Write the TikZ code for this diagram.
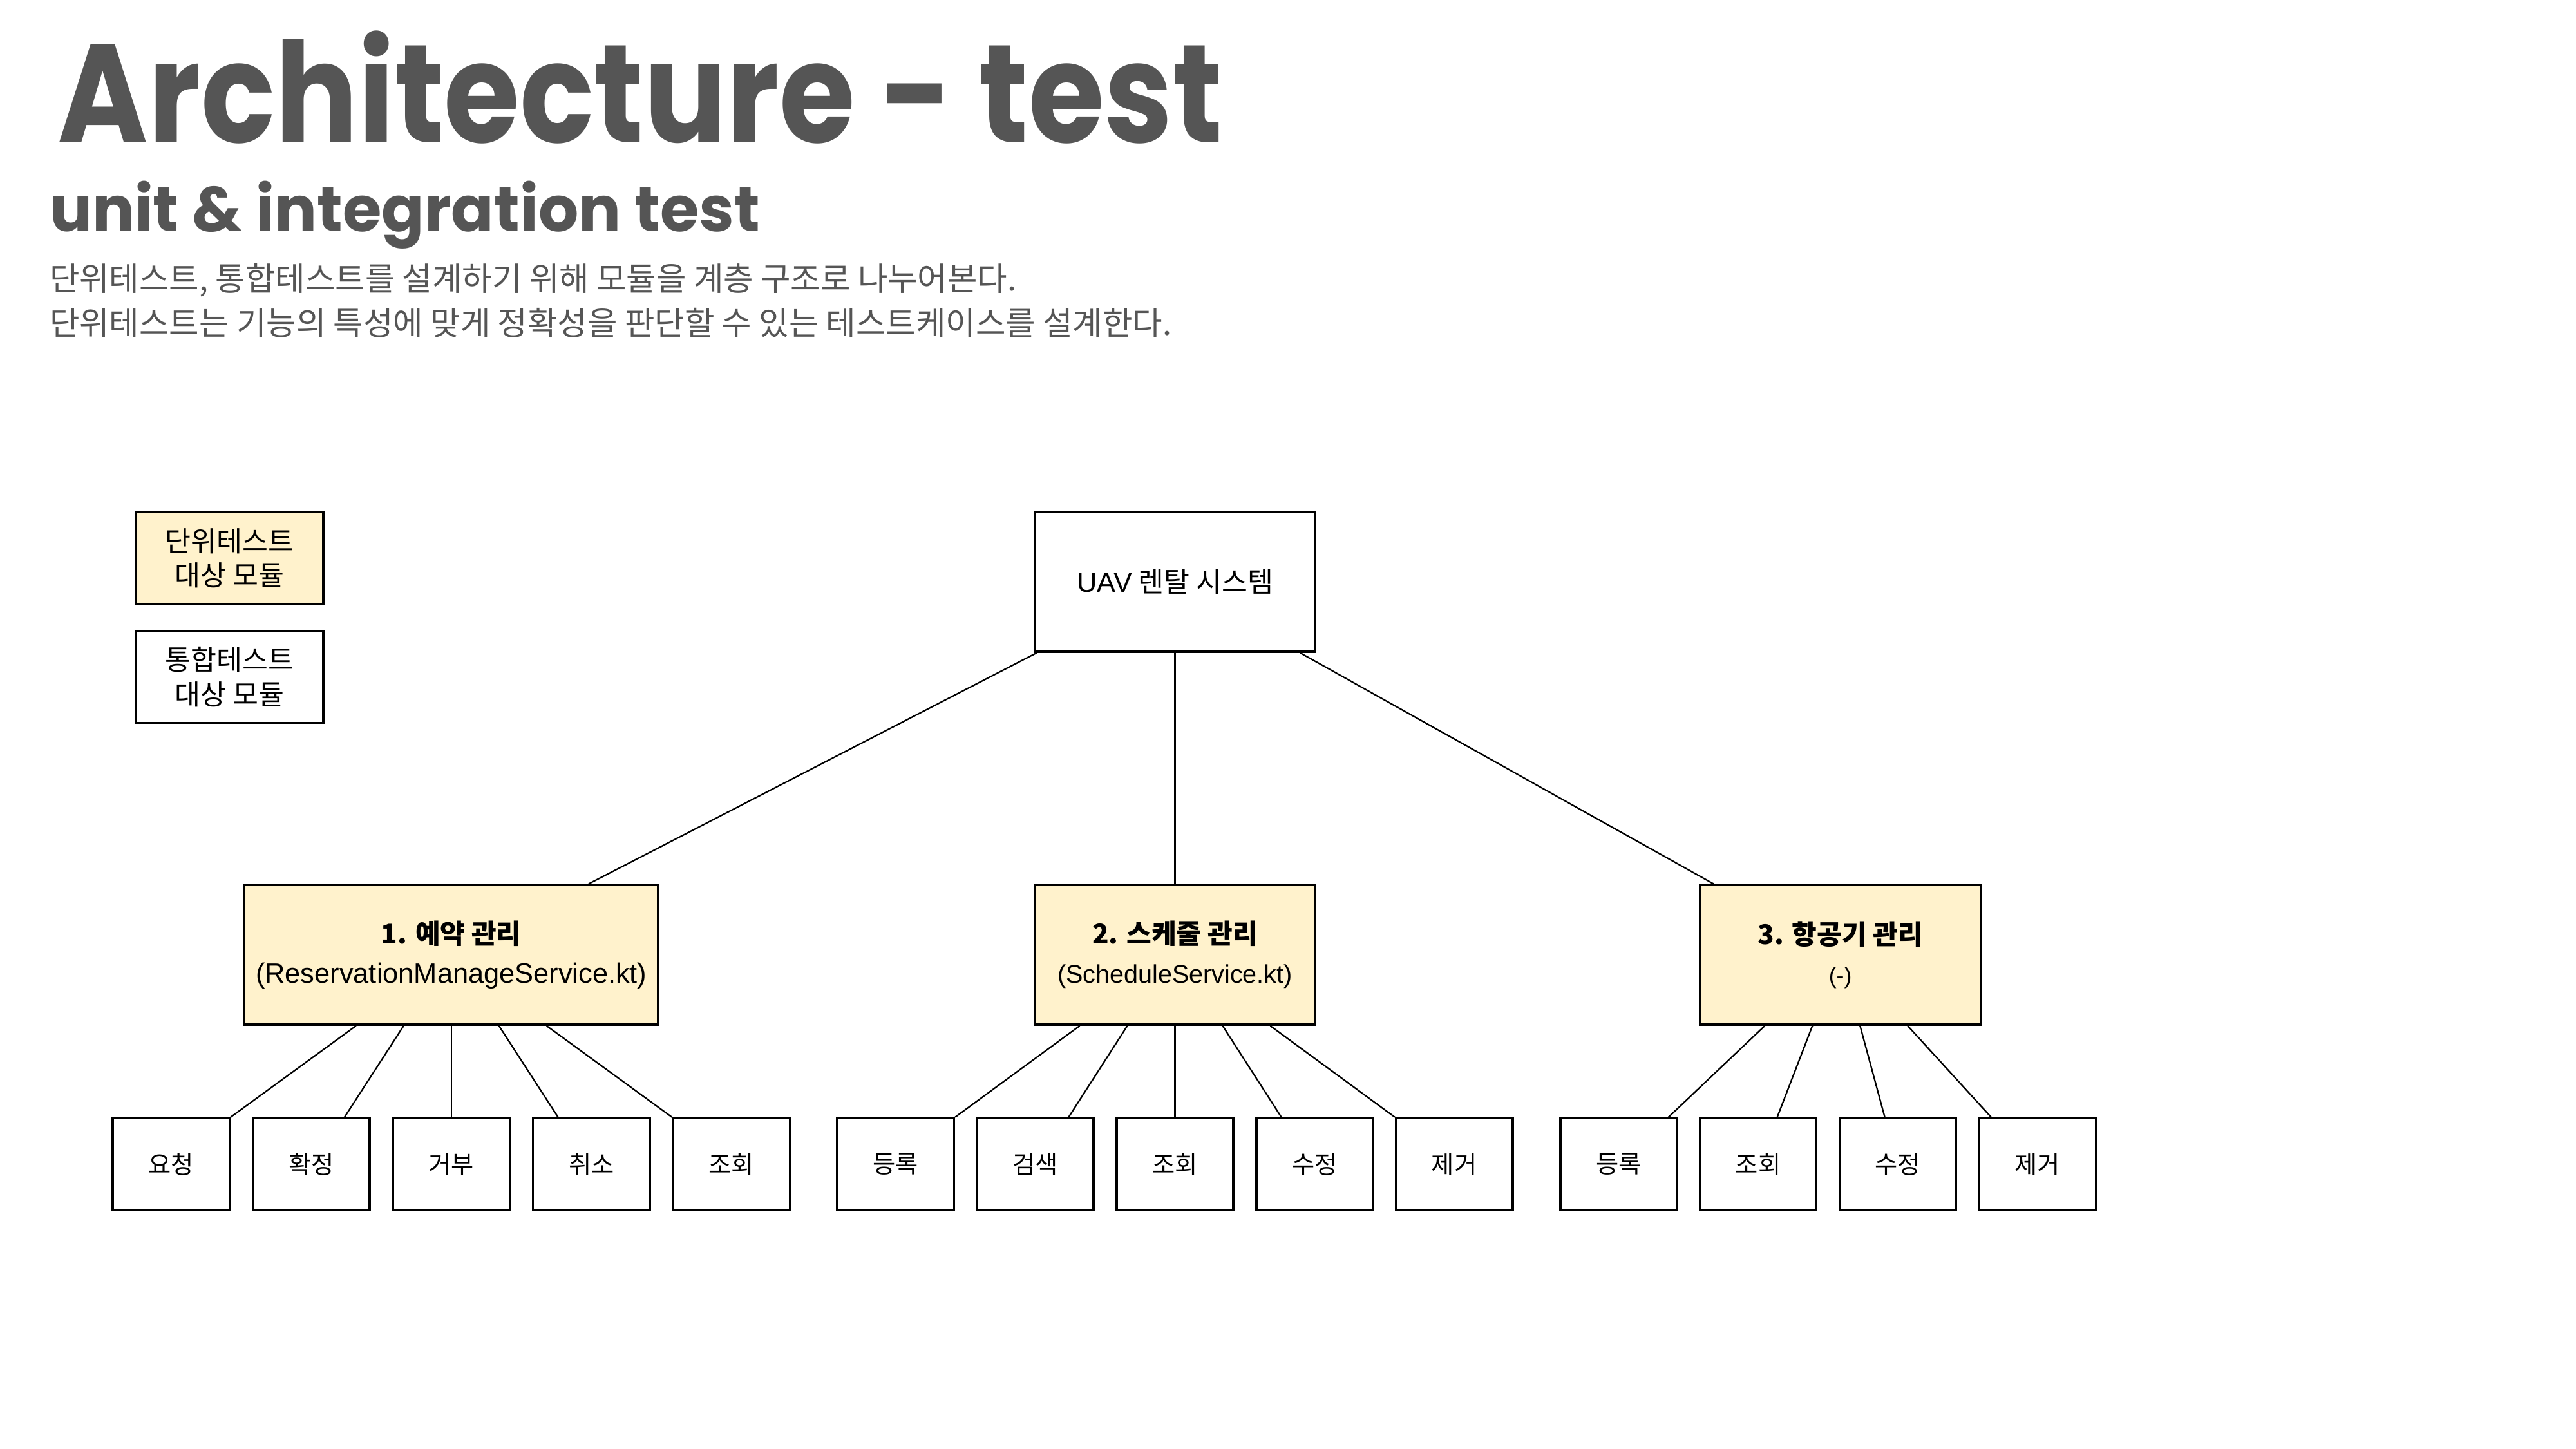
\documentclass[tikz,border=0pt]{standalone}
\usepackage{fontspec}
\setmainfont{Noto Sans CJK KR}
\newfontfamily\titlefont{Poppins}
\newfontfamily\latfont{Liberation Sans}
\usepackage{tikz}
\usetikzlibrary{positioning}
\usetikzlibrary{calc}

\definecolor{headgray}{HTML}{555555}
\definecolor{unitfill}{HTML}{FFF2CC}

\begin{document}
\begin{tikzpicture}[x=1pt, y=1pt,
		box/.style={draw, line width=1.4pt, inner sep=0pt, align=center, font=\fontsize{15}{21}\selectfont},
		unit/.style={box, fill=unitfill},
		leaf/.style={box, minimum width=71pt, minimum height=56pt, anchor=north west},
		link/.style={line width=0.9pt}]
			\fill[white] (0,0) rectangle (1568,-882);
			% heading
			\node (title) at (35,-87) [anchor=base west, inner sep=0pt, text=headgray] {\scalebox{0.88}[1]{\titlefont\bfseries\fontsize{85}{85}\selectfont Architecture - test}};
			\node (subtitle) at (30,-141) [anchor=base west, inner sep=0pt, text=headgray] {\titlefont\bfseries\fontsize{38.4}{38.4}\selectfont unit \& integration test};
			\node (lineone) at (30,-177) [anchor=base west, inner sep=0pt, text=headgray, font=\fontsize{19.8}{19.8}\selectfont] {단위테스트, 통합테스트를 설계하기 위해 모듈을 계층 구조로 나누어본다.};
			\node (linetwo) at (30,-204) [anchor=base west, inner sep=0pt, text=headgray, font=\fontsize{19.8}{19.8}\selectfont] {단위테스트는 기능의 특성에 맞게 정확성을 판단할 수 있는 테스트케이스를 설계한다.};
			% legend
			\node (legunit) at (82,-311) [unit, minimum width=114pt, minimum height=56pt, anchor=north west, font=\fontsize{17}{21}\selectfont] {단위테스트\\대상 모듈};
			\node (legint) [box, minimum width=114pt, minimum height=56pt, below=15pt of legunit, font=\fontsize{17}{21}\selectfont] {통합테스트\\대상 모듈};
			% tree
			\node (root) at (629,-311) [box, minimum width=171pt, minimum height=85pt, anchor=north west, font=\fontsize{17}{21}\selectfont] {{\latfont UAV} 렌탈 시스템};
			\node (res) at (148,-538) [unit, minimum width=252pt, minimum height=85pt, anchor=north west, font=\fontsize{16.5}{24}\selectfont] {\textbf{1. 예약 관리}\\{\latfont\fontsize{17}{17}\selectfont (ReservationManageService.kt)}};
			\node (sched) at (629,-538) [unit, minimum width=171pt, minimum height=85pt, anchor=north west, font=\fontsize{16.5}{24}\selectfont] {\textbf{2. 스케줄 관리}\\{\latfont\fontsize{15.5}{15.5}\selectfont (ScheduleService.kt)}};
			\node (air) at (1034,-538) [unit, minimum width=171pt, minimum height=85pt, anchor=north west, font=\fontsize{16.5}{24}\selectfont] {\textbf{3. 항공기 관리}\\{\latfont\fontsize{14}{14}\selectfont (-)}};
			\draw[link] ($(root.south west)+(2,0)$) -- ($(res.north west)!0.83!(res.north east)$);
			\draw[link] (root.south) -- (sched.north);
			\draw[link] ($(root.south east)+(-10,0)$) -- ($(air.north west)+(9,0)$);
			% leaves
			\foreach \lbl [count=\i] in {요청,확정,거부,취소,조회}
				\node (r\i) at ({68+85.25*(\i-1)},-680) [leaf] {\lbl};
			\foreach \lbl [count=\i] in {등록,검색,조회,수정,제거}
				\node (s\i) at ({509+85*(\i-1)},-680) [leaf] {\lbl};
			\foreach \lbl [count=\i] in {등록,조회,수정,제거}
				\node (a\i) at ({949+85*(\i-1)},-680) [leaf] {\lbl};
			\foreach \i/\dx/\f in {1/-58/1,2/-29/0.78,3/0/0.5,4/29/0.22,5/58/0} {
				\draw[link] ($(res.south)+(\dx,0)$) -- ($(r\i.north west)!\f!(r\i.north east)$);
				\draw[link] ($(sched.south)+(\dx,0)$) -- ($(s\i.north west)!\f!(s\i.north east)$);
			}
			\foreach \i/\dx/\f in {1/-46/0.92,2/-17/0.66,3/12/0.39,4/41/0.11}
				\draw[link] ($(air.south)+(\dx,0)$) -- ($(a\i.north west)!\f!(a\i.north east)$);
		\end{tikzpicture}
\end{document}
